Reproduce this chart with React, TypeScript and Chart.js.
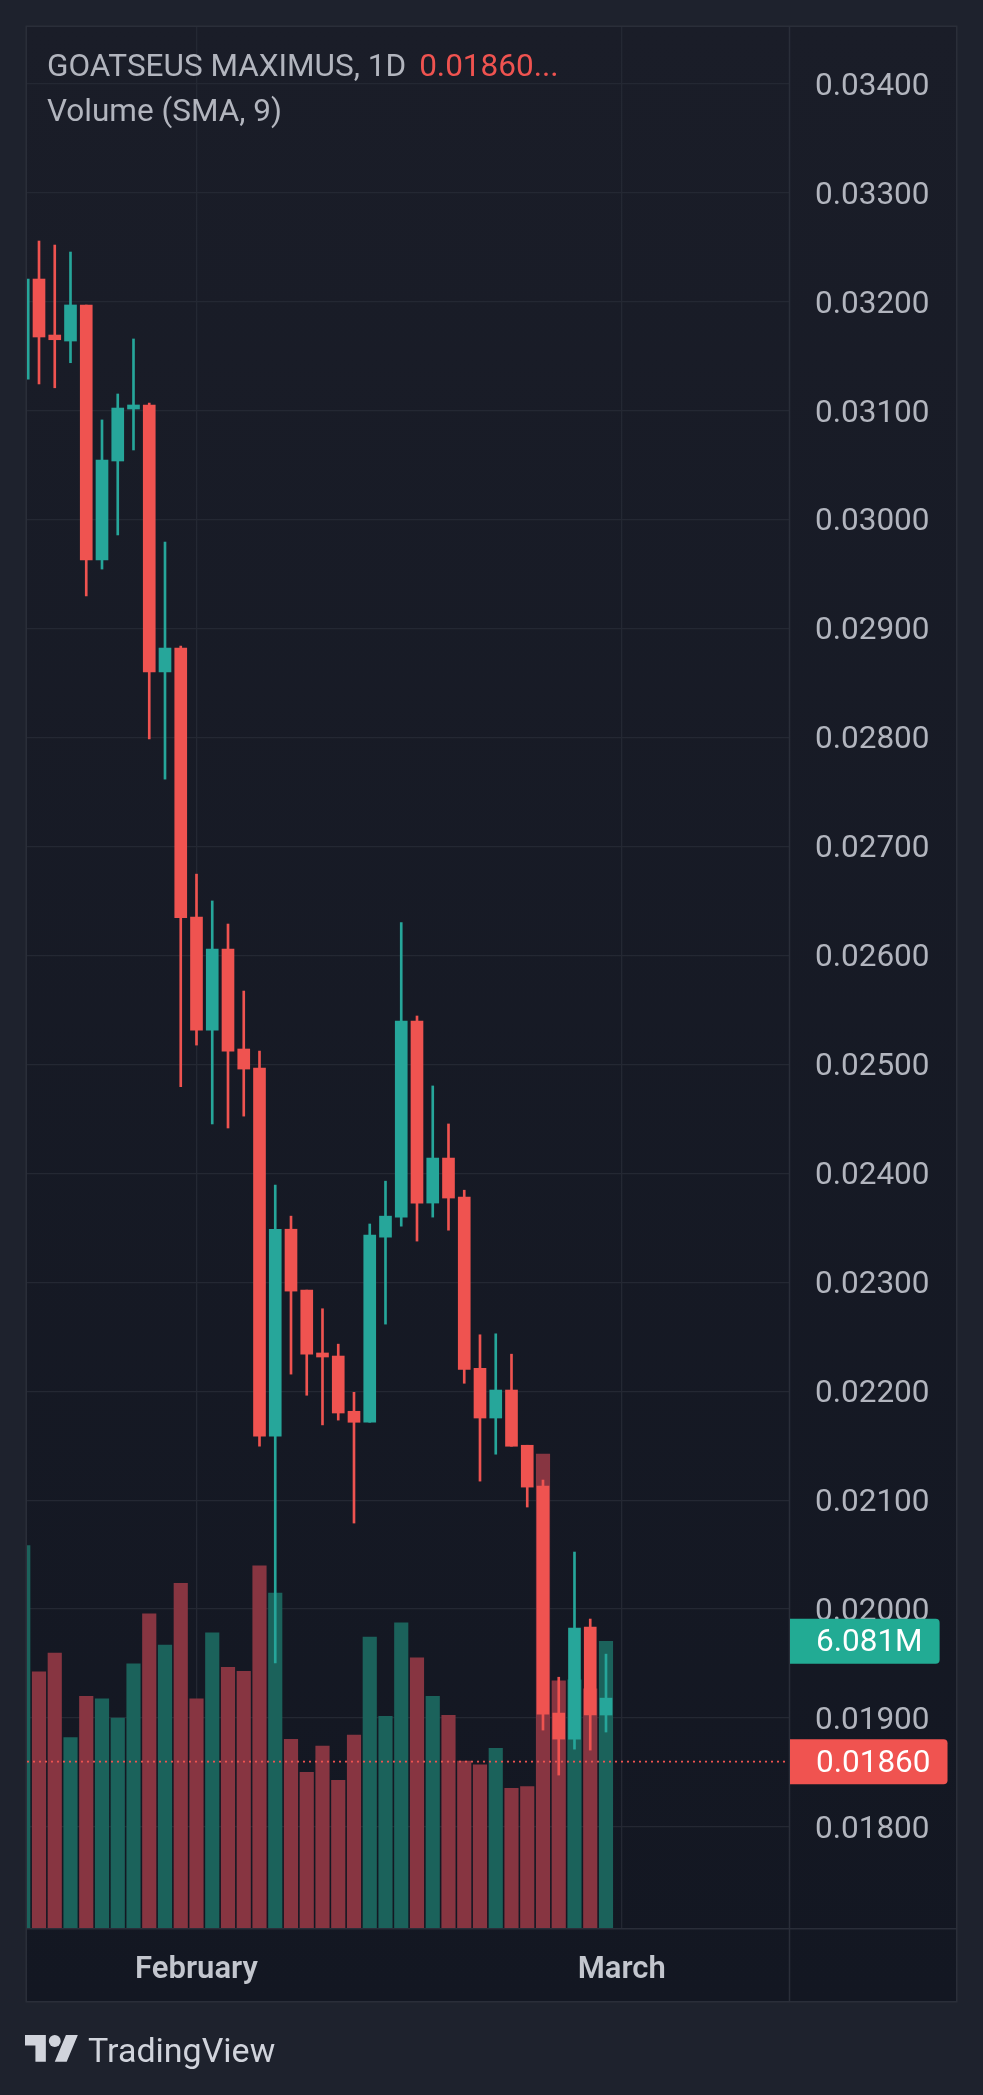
import React, { useEffect, useRef } from "react";
import { Chart, registerables } from "chart.js";

Chart.register(...registerables);

// ---- Data (daily candles, price in USD) ----
const OPEN = [
  0.03129, 0.032208, 0.031694, 0.031639, 0.03197, 0.029629, 0.030538, 0.031015,
  0.031052, 0.028602, 0.028821, 0.026352, 0.025315, 0.026059, 0.025141, 0.024966,
  0.021587, 0.023487, 0.022928, 0.022351, 0.022323, 0.021816, 0.021715, 0.023414,
  0.023598, 0.025398, 0.023727, 0.02414, 0.023781, 0.02221, 0.021754, 0.022011,
  0.021504, 0.02113, 0.019046, 0.018807, 0.019836, 0.019028,
];
const HIGH = [
  0.03221, 0.032557, 0.03252, 0.032456, 0.03197, 0.030915, 0.031153, 0.031658,
  0.03107, 0.029794, 0.02884, 0.026746, 0.0265, 0.026288, 0.025673, 0.025122,
  0.023891, 0.023607, 0.022928, 0.022757, 0.022432, 0.02199, 0.023535, 0.023928,
  0.026301, 0.025444, 0.024802, 0.024453, 0.023845, 0.022518, 0.022527, 0.02234,
  0.021504, 0.021185, 0.019375, 0.020524, 0.019909, 0.019587,
];
const LOW = [
  0.03129, 0.031245, 0.03121, 0.03144, 0.029299, 0.029546, 0.029859, 0.030639,
  0.027986, 0.027618, 0.024795, 0.025177, 0.024453, 0.024416, 0.024525, 0.021495,
  0.019506, 0.022157, 0.021963, 0.021691, 0.021735, 0.02079, 0.021715, 0.022616,
  0.023515, 0.023378, 0.023598, 0.023478, 0.022073, 0.021175, 0.021422, 0.021495,
  0.020937, 0.01889, 0.018477, 0.018715, 0.018706, 0.018872,
];
const CLOSE = [
  0.032208, 0.031676, 0.031651, 0.03197, 0.029629, 0.030547, 0.031024, 0.031052,
  0.028602, 0.028821, 0.026346, 0.025315, 0.026059, 0.025122, 0.024957, 0.021587,
  0.023487, 0.022919, 0.02234, 0.022314, 0.0218, 0.021715, 0.023434, 0.023607,
  0.025398, 0.023727, 0.02414, 0.023773, 0.022201, 0.021754, 0.022011, 0.021495,
  0.02112, 0.019037, 0.018807, 0.019827, 0.019028, 0.019183,
];
// Volume in millions
const VOLUME_M = [
  8.11, 5.43, 5.83, 4.04, 4.91, 4.86, 4.45, 5.6, 6.66, 6.0, 7.31, 4.86, 6.26,
  5.53, 5.44, 7.68, 7.1, 4.0, 3.3, 3.86, 3.13, 4.09, 6.17, 4.49, 6.47, 5.73,
  4.91, 4.51, 3.54, 3.46, 3.81, 2.96, 3.0, 10.05, 5.24, 5.26, 5.07, 6.081,
];
const PRICE_TICKS = [
  0.018, 0.019, 0.02, 0.021, 0.022, 0.023, 0.024, 0.025, 0.026, 0.027, 0.028,
  0.029, 0.03, 0.031, 0.032, 0.033, 0.034,
];
const MONTH_TICKS = [11, 38];
const MONTH_LABELS = ["February", "March"];
const LAST_PRICE = 0.0186;
const LAST_PRICE_LABEL = "0.01860";
const LAST_VOLUME_LABEL = "6.081M";
const TITLE = "GOATSEUS MAXIMUS, 1D";
const TITLE_VALUE = "0.01860...";
const SUBTITLE = "Volume (SMA, 9)";

// ---- Styles ----
const UP = "#26a69a";
const DOWN = "#ef5350";
const VOL_UP = "#1b625b";
const VOL_DOWN = "#873541";
const OUTER_BG = "#1e222d";
const BORDER = "#2a2e39";
const GRID = "#242833";
const TEXT = "#b2b5be";
const FONT = "Roboto, 'Noto Sans', sans-serif";
const FS = 31.5;

const W = 983;
const H = 2095;

function drawTag(ctx: CanvasRenderingContext2D, x: number, y: number, text: string, color: string) {
  ctx.save();
  ctx.font = `${FS}px ${FONT}`;
  const tw = ctx.measureText(text).width;
  const padL = 26;
  const w = padL + tw + 17;
  const h = 45;
  const r = 4;
  const top = y - h / 2;
  ctx.fillStyle = color;
  ctx.beginPath();
  ctx.moveTo(x, top);
  ctx.lineTo(x + w - r, top);
  ctx.quadraticCurveTo(x + w, top, x + w, top + r);
  ctx.lineTo(x + w, top + h - r);
  ctx.quadraticCurveTo(x + w, top + h, x + w - r, top + h);
  ctx.lineTo(x, top + h);
  ctx.closePath();
  ctx.fill();
  ctx.fillStyle = "#ffffff";
  ctx.textBaseline = "middle";
  ctx.textAlign = "left";
  ctx.fillText(text, x + padL, y + 2);
  ctx.restore();
}

const framePlugin = {
  id: "tvFrame",
  beforeDraw(chart: any) {
    const { ctx, chartArea } = chart;
    const right = chart.scales.y.right;
    const bottom = chart.scales.x.bottom;
    ctx.save();
    ctx.fillStyle = OUTER_BG;
    ctx.fillRect(0, 0, chart.width, chart.height);
    const g = ctx.createLinearGradient(0, chartArea.top, 0, bottom);
    g.addColorStop(0, "#1a1d28");
    g.addColorStop(1, "#131722");
    ctx.fillStyle = g;
    ctx.fillRect(chartArea.left, chartArea.top, right - chartArea.left, bottom - chartArea.top);
    ctx.restore();
  },
  afterDatasetsDraw(chart: any) {
    const { ctx, chartArea } = chart;
    const y = chart.scales.y.getPixelForValue(LAST_PRICE);
    ctx.save();
    ctx.strokeStyle = DOWN;
    ctx.lineWidth = 1.6;
    ctx.setLineDash([2, 4]);
    ctx.beginPath();
    ctx.moveTo(chartArea.left, y);
    ctx.lineTo(chartArea.right, y);
    ctx.stroke();
    ctx.restore();
  },
  afterDraw(chart: any) {
    const { ctx, chartArea } = chart;
    const right = chart.scales.y.right;
    const bottom = chart.scales.x.bottom;
    ctx.save();
    ctx.strokeStyle = BORDER;
    ctx.lineWidth = 1.5;
    ctx.strokeRect(chartArea.left - 0.75, chartArea.top - 0.75, right - chartArea.left + 1.5, bottom - chartArea.top + 1.5);
    ctx.beginPath();
    ctx.moveTo(chartArea.right + 0.5, chartArea.top);
    ctx.lineTo(chartArea.right + 0.5, bottom);
    ctx.moveTo(chartArea.left, chartArea.bottom + 0.75);
    ctx.lineTo(right, chartArea.bottom + 0.75);
    ctx.stroke();
    ctx.restore();
    const volY = chart.scales.yv.getPixelForValue(VOLUME_M[VOLUME_M.length - 1] * 1e6);
    drawTag(ctx, chartArea.right + 1, volY, LAST_VOLUME_LABEL, "#22ab94");
    drawTag(ctx, chartArea.right + 1, chart.scales.y.getPixelForValue(LAST_PRICE), LAST_PRICE_LABEL, "#f05350");
  },
};

export default function App() {
  const canvasRef = useRef<HTMLCanvasElement | null>(null);

  useEffect(() => {
    const canvas = canvasRef.current;
    if (!canvas) return;
    const idx = OPEN.map((_, i) => i);
    const isUp = idx.map((i) => CLOSE[i] >= OPEN[i]);
    const chart = new Chart(canvas, {
      type: "bar",
      data: {
        datasets: [
          {
            label: "Volume",
            data: idx.map((i) => ({ x: i, y: VOLUME_M[i] * 1e6 })) as any,
            backgroundColor: idx.map((i) => (isUp[i] ? VOL_UP : VOL_DOWN)),
            yAxisID: "yv",
            barThickness: 13.5,
            grouped: false,
            order: 3,
          },
          {
            label: "Wicks",
            data: idx.map((i) => ({ x: i, y: [LOW[i], HIGH[i]] })) as any,
            backgroundColor: idx.map((i) => (isUp[i] ? UP : DOWN)),
            yAxisID: "y",
            barThickness: 2,
            grouped: false,
            order: 2,
          },
          {
            label: "Bodies",
            data: idx.map((i) => ({ x: i, y: [OPEN[i], CLOSE[i]] })) as any,
            backgroundColor: idx.map((i) => (isUp[i] ? UP : DOWN)),
            yAxisID: "y",
            barThickness: 12,
            grouped: false,
            order: 1,
          },
        ],
      },
      options: {
        responsive: false,
        animation: false,
        devicePixelRatio: 1,
        events: [],
        layout: { padding: { left: 27, top: 27, right: 27, bottom: 94 } },
        plugins: {
          legend: { display: false },
          tooltip: { enabled: false },
          title: { display: false },
        },
        scales: {
          x: {
            type: "linear",
            min: 0.238,
            max: 48.62,
            offset: false,
            afterFit: (scale: any) => {
              scale.height = 73;
              scale.paddingLeft = 0;
              scale.paddingRight = 0;
            },
            afterBuildTicks: (scale: any) => {
              scale.ticks = MONTH_TICKS.map((v) => ({ value: v }));
            },
            grid: { color: GRID, lineWidth: 1.3, drawTicks: false, offset: false },
            border: { display: false },
            ticks: {
              autoSkip: false,
              maxRotation: 0,
              padding: 24,
              color: "#c3c6ce",
              font: { family: FONT, size: 31, weight: 600 as any },
              callback: (v: any) => {
                const k = MONTH_TICKS.indexOf(Number(v));
                return k >= 0 ? MONTH_LABELS[k] : "";
              },
            },
          },
          y: {
            type: "linear",
            position: "right",
            min: 0.0170733,
            max: 0.0345213,
            afterFit: (scale: any) => {
              scale.width = 167;
              scale.paddingTop = 0;
              scale.paddingBottom = 0;
            },
            afterBuildTicks: (scale: any) => {
              scale.ticks = PRICE_TICKS.map((v) => ({ value: v }));
            },
            grid: { color: GRID, lineWidth: 1.3, drawTicks: false },
            border: { display: false },
            ticks: {
              padding: 26,
              labelOffset: 3,
              color: TEXT,
              font: { family: FONT, size: FS },
              callback: (v: any) => Number(v).toFixed(5),
            },
          },
          yv: {
            type: "linear",
            display: false,
            min: 0,
            max: 40.31e6,
          },
        },
      } as any,
      plugins: [framePlugin],
    });
    return () => chart.destroy();
  }, []);

  const textBase: React.CSSProperties = {
    position: "absolute",
    fontFamily: FONT,
    fontSize: FS,
    lineHeight: `${FS}px`,
    color: TEXT,
    whiteSpace: "nowrap",
    pointerEvents: "none",
  };

  return (
    <div style={{ position: "absolute", left: 0, top: 0, width: W, height: H, background: OUTER_BG, overflow: "hidden" }}>
      <canvas ref={canvasRef} width={W} height={H} style={{ position: "absolute", left: 0, top: 0, display: "block" }} />
      <div style={{ ...textBase, left: 47, top: 50 }}>
        {TITLE}
        <span style={{ color: DOWN, marginLeft: 13 }}>{TITLE_VALUE}</span>
      </div>
      <div style={{ ...textBase, left: 47, top: 95 }}>{SUBTITLE}</div>
      <svg
        style={{ position: "absolute", left: 25, top: 2035 }}
        width={53.6}
        height={26.8}
        viewBox="0 4 36 18"
      >
        <path d="M14 22H7V11H0V4h14v18zM28 22h-8l7.5-18h8L28 22z" fill="#d1d4dc" />
        <circle cx="20" cy="8" r="4" fill="#d1d4dc" />
      </svg>
      <div style={{ ...textBase, left: 88, top: 2033, fontSize: 34, lineHeight: "34px", color: "#d1d4dc" }}>TradingView</div>
    </div>
  );
}
